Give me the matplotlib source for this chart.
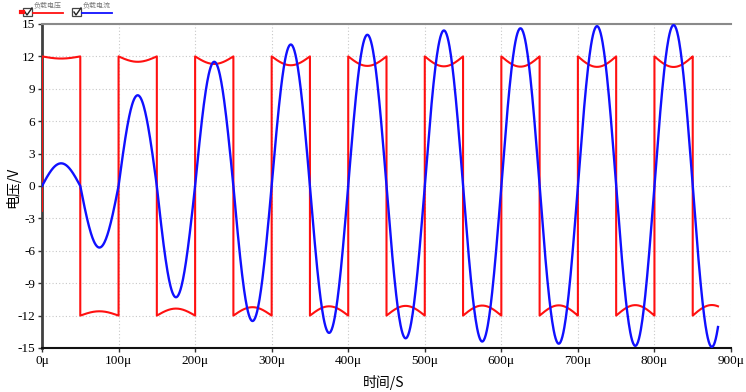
import numpy as np
import matplotlib
matplotlib.use("Agg")
import matplotlib.pyplot as plt
from matplotlib.patches import Rectangle
from matplotlib.lines import Line2D

# ---- data ----
half_period_us = 50.0
end_time_us = 883.0
# peak load current per half-cycle (V scale), centers at 25, 75, ... us
current_peaks = [2.1, -5.7, 8.4, -10.3, 11.5, -12.5, 13.1, -13.6, 14.0, -14.1,
                 14.4, -14.4, 14.6, -14.6, 14.8, -14.8, 14.9, -14.9]
# square-wave voltage level per half-cycle
voltage_levels = [12, -12, 12, -12, 12, -12, 12, -12, 12, -12,
                  12, -12, 12, -12, 12, -12, 12, -12]
# sag of the voltage at the middle of each half-cycle
voltage_dips = [0.2, 0.4, 0.5, 0.65, 0.7, 0.78, 0.82, 0.86, 0.88, 0.9,
                0.92, 0.93, 0.95, 0.95, 0.97, 0.97, 0.98, 0.98]
voltage_start = -2.3

xticks_us = [0, 100, 200, 300, 400, 500, 600, 700, 800, 900]
xtick_labels = ["0μ", "100μ", "200μ", "300μ", "400μ", "500μ", "600μ", "700μ", "800μ", "900μ"]
yticks = [15, 12, 9, 6, 3, 0, -3, -6, -9, -12, -15]

# ---- build curves ----
t_all, i_all, v_t, v_all = [], [], [0.0], [voltage_start]
for k, (pk, lv, dp) in enumerate(zip(current_peaks, voltage_levels, voltage_dips)):
    t0 = k * half_period_us
    t1 = min(t0 + half_period_us, end_time_us)
    t = np.linspace(t0, t1, 80)
    s = np.sin(np.pi * (t - t0) / half_period_us)
    t_all.append(t)
    i_all.append(pk * s)
    v_t.extend(t.tolist())
    v_all.extend((lv - np.sign(lv) * dp * s).tolist())
t_all = np.concatenate(t_all)
i_all = np.concatenate(i_all)

fig = plt.figure(figsize=(7.46, 3.92), dpi=100)
ax = fig.add_axes([42/746, 1-348/392, (731-42)/746, (348-24)/392])

ax.plot(v_t, v_all, color="#ff1010", lw=1.5, zorder=3)
ax.plot(t_all, i_all, color="#1010ff", lw=1.7, zorder=4)

ax.set_xlim(0, 900)
ax.set_ylim(-15, 15)
ax.set_xticks(xticks_us)
ax.set_xticklabels(xtick_labels)
ax.set_yticks(yticks)
ax.set_yticklabels([str(v) for v in yticks])

ax.grid(True, color="#c8c8c8", linestyle=(0, (1, 2)), lw=0.8)
ax.set_axisbelow(True)

for lab in ax.get_xticklabels() + ax.get_yticklabels():
    lab.set_fontfamily("Liberation Serif")
    lab.set_fontsize(9.5)
ax.tick_params(axis="both", length=3, width=1, color="#333333", pad=2)

ax.spines["left"].set_color("#404040")
ax.spines["left"].set_linewidth(2)
ax.spines["bottom"].set_color("#111111")
ax.spines["bottom"].set_linewidth(1.5)
ax.spines["top"].set_color("#8a8a8a")
ax.spines["top"].set_linewidth(1.5)
ax.spines["right"].set_visible(False)

cjk = ["Noto Sans CJK SC", "DejaVu Sans"]
fig.text(384/746, 1-382/392, "时间/S", family=cjk, fontsize=10, ha="center", va="center")
fig.text(13/746, 1-187/392, "电压/V", family=cjk, fontsize=10, ha="center", va="center", rotation=90)

# ---- legend ----
def fx(px):
    return px / 746
def fy(py):
    return 1 - py / 392

for (bx, col, label) in [(23, "#ff1010", "负载电压"), (72, "#1010ff", "负载电流")]:
    fig.patches.append(Rectangle((fx(bx), fy(16)), 9/746, 8/392, transform=fig.transFigure,
                                 facecolor="white", edgecolor="#444444", lw=0.9))
    fig.lines.append(Line2D([fx(bx+2), fx(bx+4), fx(bx+9)], [fy(12), fy(15), fy(8)],
                            transform=fig.transFigure, color="#222222", lw=1.0))
    fig.lines.append(Line2D([fx(bx+10), fx(bx+40)], [fy(13), fy(13)],
                            transform=fig.transFigure, color=col, lw=1.3))
    fig.text(fx(bx+11), fy(5.5), label, family=cjk, fontsize=5, color="#777777",
             ha="left", va="center")
fig.lines.append(Line2D([fx(20.5), fx(22.5)], [fy(12), fy(12)], transform=fig.transFigure,
                        color="#ff1010", lw=3))

fig.savefig("out.png", dpi=100)
